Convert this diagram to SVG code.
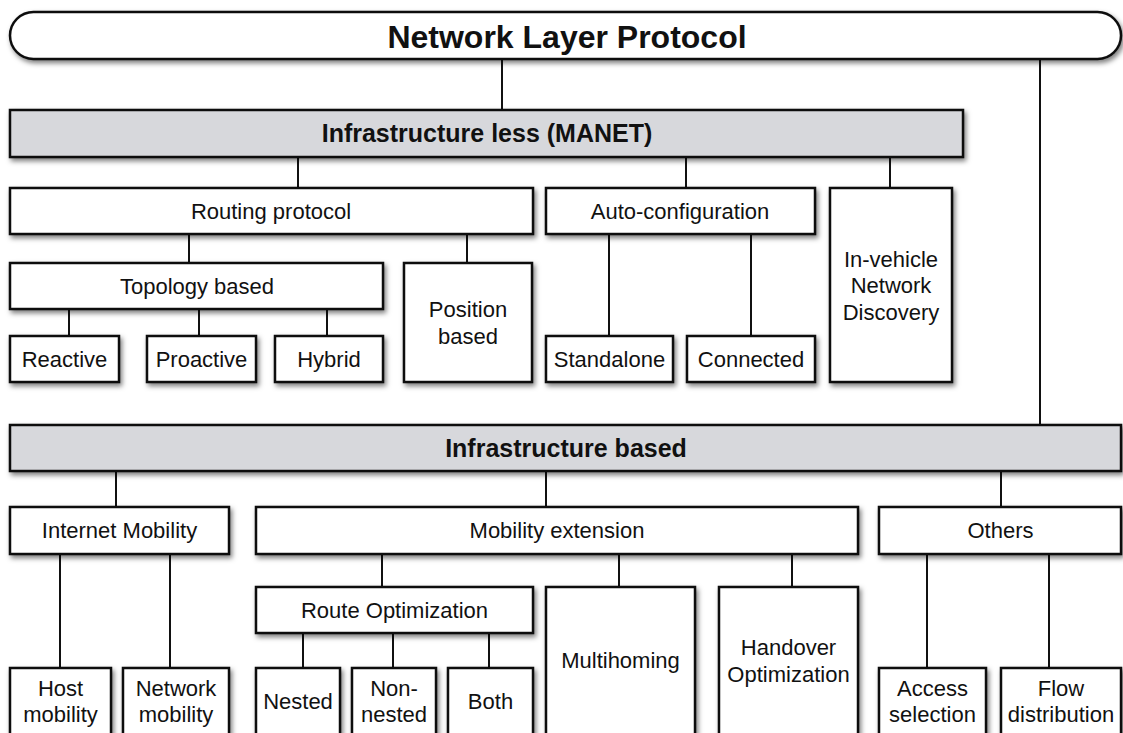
<svg xmlns="http://www.w3.org/2000/svg" width="1123" height="733" viewBox="0 0 1123 733">
<style>
.b{fill:#fff;stroke:#111;stroke-width:2.5;filter:url(#sh)}
.g{fill:#d7d8dc;stroke:#111;stroke-width:2.5;filter:url(#sh)}
.c line{stroke:#111;stroke-width:2}
text{font-family:"Liberation Sans",Arial,Helvetica,sans-serif;font-size:22px;fill:#111;text-anchor:middle}
.h{font-weight:bold;font-size:25px}
.t{font-weight:bold;font-size:32px}
</style>
<defs>
<filter id="sh" x="-10%" y="-20%" width="120%" height="150%">
<feDropShadow dx="2" dy="3" stdDeviation="2.5" flood-color="#000" flood-opacity="0.5"/>
</filter>
</defs>
<rect width="1123" height="733" fill="#fff"/>
<g class="c" id="connectors">
<line x1="502" y1="59" x2="502" y2="110"/>
<line x1="1040" y1="59" x2="1040" y2="425"/>
<line x1="298" y1="157" x2="298" y2="188"/>
<line x1="686" y1="157" x2="686" y2="188"/>
<line x1="890" y1="157" x2="890" y2="188"/>
<line x1="189" y1="234" x2="189" y2="263"/>
<line x1="467" y1="234" x2="467" y2="263"/>
<line x1="69" y1="309" x2="69" y2="336"/>
<line x1="199" y1="309" x2="199" y2="336"/>
<line x1="327" y1="309" x2="327" y2="336"/>
<line x1="609" y1="234" x2="609" y2="336"/>
<line x1="751" y1="234" x2="751" y2="336"/>
<line x1="116" y1="471" x2="116" y2="507"/>
<line x1="546" y1="471" x2="546" y2="507"/>
<line x1="1001" y1="471" x2="1001" y2="507"/>
<line x1="60" y1="554" x2="60" y2="668"/>
<line x1="170" y1="554" x2="170" y2="668"/>
<line x1="382" y1="554" x2="382" y2="587"/>
<line x1="619" y1="554" x2="619" y2="587"/>
<line x1="792" y1="554" x2="792" y2="587"/>
<line x1="303" y1="633" x2="303" y2="668"/>
<line x1="393" y1="633" x2="393" y2="668"/>
<line x1="489" y1="633" x2="489" y2="668"/>
<line x1="927" y1="554" x2="927" y2="668"/>
<line x1="1049" y1="554" x2="1049" y2="668"/>
</g>
<g id="root"><rect class="b" x="10" y="12" width="1111" height="47" rx="23.5"/><text class="t" x="567" y="48">Network Layer Protocol</text></g>
<g id="manet"><rect class="g" x="10" y="110" width="953" height="47"/><text class="h" x="487" y="142">Infrastructure less (MANET)</text></g>
<g id="routing"><rect class="b" x="10" y="188" width="523" height="46"/><text x="271" y="219">Routing protocol</text></g>
<g id="autoconf"><rect class="b" x="546" y="188" width="269" height="46"/><text x="680" y="219">Auto-configuration</text></g>
<g id="invehicle"><rect class="b" x="830" y="188" width="122" height="194"/><text x="891" y="267">In-vehicle</text><text x="891" y="293">Network</text><text x="891" y="320">Discovery</text></g>
<g id="topology"><rect class="b" x="10" y="263" width="373" height="46"/><text x="197" y="294">Topology based</text></g>
<g id="position"><rect class="b" x="404" y="263" width="128" height="119"/><text x="468" y="317">Position</text><text x="468" y="344">based</text></g>
<g id="reactive"><rect class="b" x="10" y="336" width="109" height="46"/><text x="64.5" y="367">Reactive</text></g>
<g id="proactive"><rect class="b" x="147" y="336" width="109" height="46"/><text x="201.5" y="367">Proactive</text></g>
<g id="hybrid"><rect class="b" x="275" y="336" width="108" height="46"/><text x="329" y="367">Hybrid</text></g>
<g id="standalone"><rect class="b" x="546" y="336" width="127" height="46"/><text x="609.5" y="367">Standalone</text></g>
<g id="connected"><rect class="b" x="687" y="336" width="128" height="46"/><text x="751" y="367">Connected</text></g>
<g id="infra"><rect class="g" x="10" y="425" width="1111" height="46"/><text class="h" x="566" y="457">Infrastructure based</text></g>
<g id="internet"><rect class="b" x="10" y="507" width="219" height="47"/><text x="119.5" y="538">Internet Mobility</text></g>
<g id="mobext"><rect class="b" x="256" y="507" width="602" height="47"/><text x="557" y="538">Mobility extension</text></g>
<g id="others"><rect class="b" x="879" y="507" width="242" height="47"/><text x="1000.5" y="538">Others</text></g>
<g id="routeopt"><rect class="b" x="256" y="587" width="277" height="46"/><text x="394.5" y="618">Route Optimization</text></g>
<g id="multihoming"><rect class="b" x="546" y="587" width="149" height="150"/><text x="620.5" y="668">Multihoming</text></g>
<g id="handover"><rect class="b" x="719" y="587" width="139" height="150"/><text x="788.5" y="655">Handover</text><text x="788.5" y="682">Optimization</text></g>
<g id="host"><rect class="b" x="10" y="668" width="101" height="70"/><text x="60.5" y="696">Host</text><text x="60.5" y="722">mobility</text></g>
<g id="netmob"><rect class="b" x="123" y="668" width="106" height="70"/><text x="176" y="696">Network</text><text x="176" y="722">mobility</text></g>
<g id="nested"><rect class="b" x="256" y="668" width="84" height="70"/><text x="298" y="709">Nested</text></g>
<g id="nonnested"><rect class="b" x="352" y="668" width="84" height="70"/><text x="394" y="696">Non-</text><text x="394" y="722">nested</text></g>
<g id="both"><rect class="b" x="448" y="668" width="85" height="70"/><text x="490.5" y="709">Both</text></g>
<g id="access"><rect class="b" x="879" y="668" width="107" height="70"/><text x="932.5" y="696">Access</text><text x="932.5" y="722">selection</text></g>
<g id="flow"><rect class="b" x="1001" y="668" width="120" height="70"/><text x="1061" y="696">Flow</text><text x="1061" y="722">distribution</text></g>
</svg>
